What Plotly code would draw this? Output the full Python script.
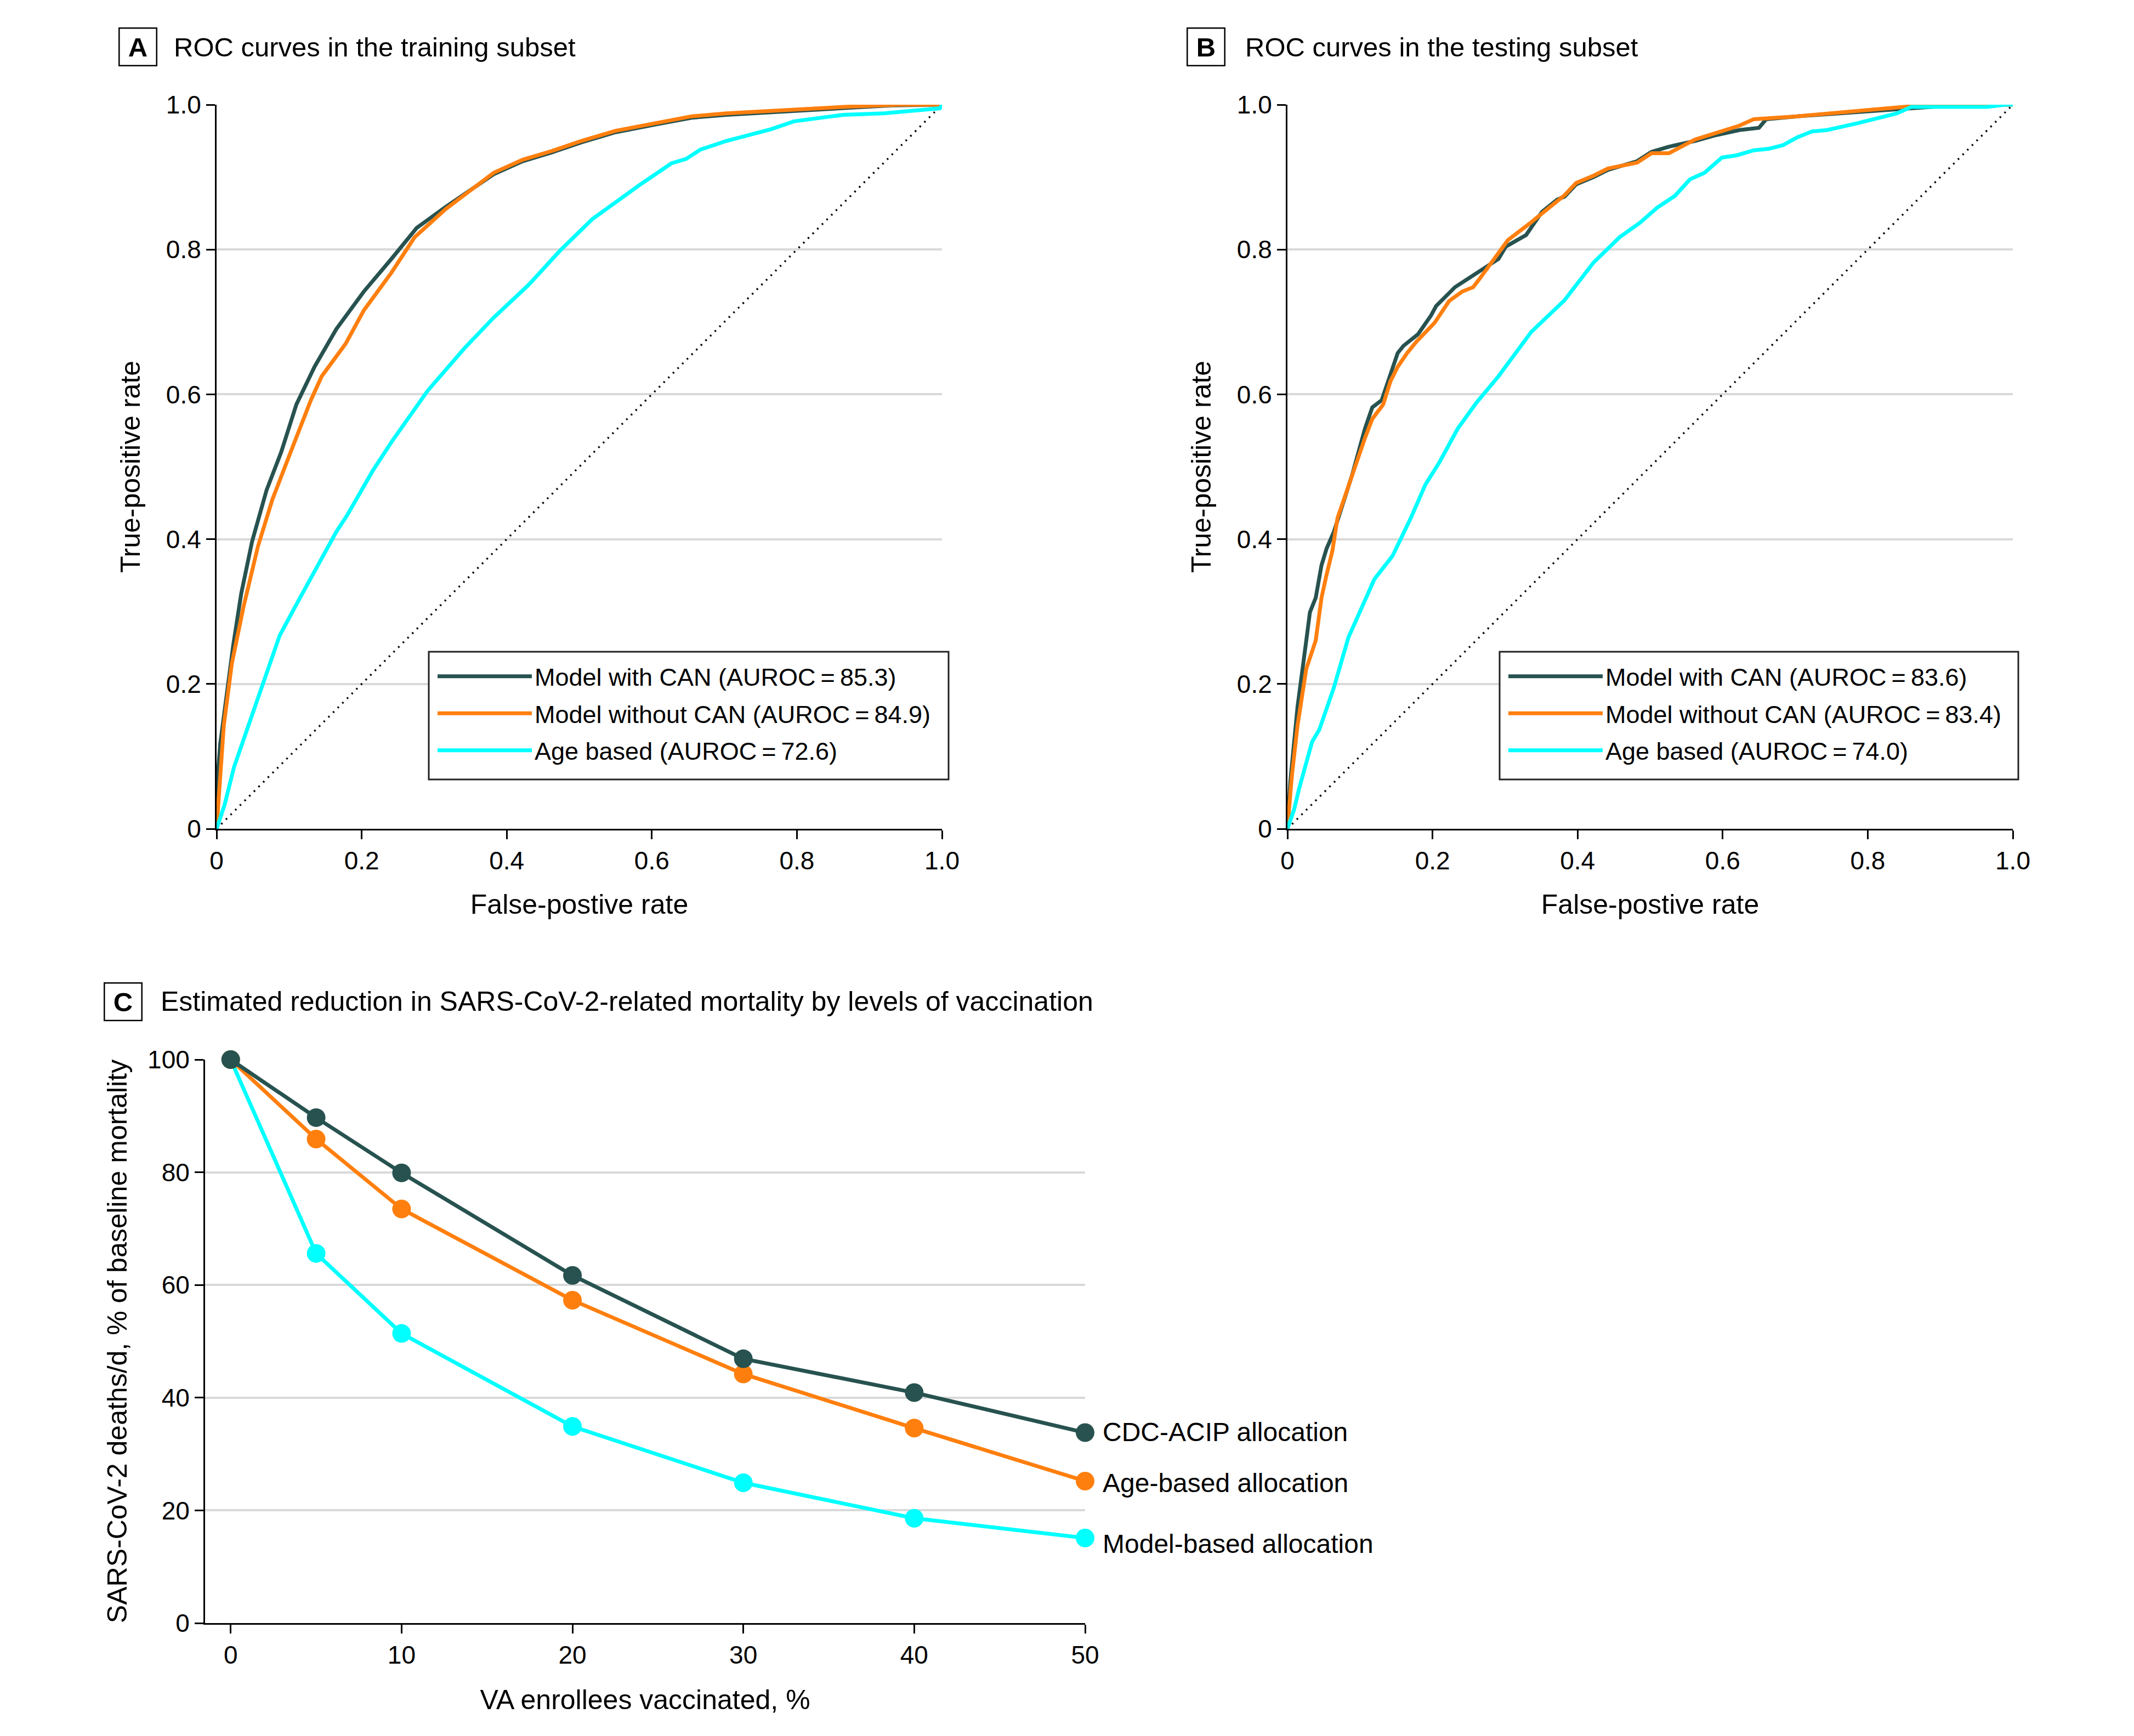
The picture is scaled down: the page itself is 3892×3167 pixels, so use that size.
import plotly.graph_objects as go

W, H = 3892, 3167
FONT = "Liberation Sans"
FS_TICK = 46
FS_TITLE = 49
FS_AXT = 50
FS_LAB = 48
FS_LEG = 45

# ---------------- data ----------------
# Panel A: ROC curves, training subset
a_can_fpr = [0, 0.001, 0.005, 0.014, 0.023, 0.034, 0.049, 0.069, 0.089, 0.110, 0.135, 0.165, 0.203, 0.241,
             0.276, 0.316, 0.382, 0.422, 0.462, 0.503, 0.550, 0.607, 0.655, 0.703, 0.784, 0.864, 0.93, 1.0]
a_can_tpr = [0, 0.065, 0.117, 0.189, 0.254, 0.325, 0.397, 0.468, 0.520, 0.586, 0.638, 0.690, 0.742, 0.787,
             0.830, 0.859, 0.904, 0.922, 0.934, 0.948, 0.962, 0.973, 0.982, 0.986, 0.991, 0.995, 0.999, 1.0]
a_nocan_fpr = [0, 0.004, 0.010, 0.021, 0.037, 0.057, 0.077, 0.102, 0.130, 0.145, 0.178, 0.203, 0.241, 0.273,
               0.316, 0.382, 0.422, 0.462, 0.503, 0.550, 0.607, 0.655, 0.703, 0.784, 0.864, 0.94, 1.0]
a_nocan_tpr = [0, 0.065, 0.143, 0.228, 0.306, 0.390, 0.455, 0.520, 0.592, 0.625, 0.670, 0.716, 0.768, 0.817,
               0.856, 0.906, 0.924, 0.936, 0.950, 0.964, 0.975, 0.984, 0.988, 0.993, 0.997, 1.0, 1.0]
a_age_fpr = [0, 0.011, 0.024, 0.044, 0.064, 0.087, 0.115, 0.140, 0.165, 0.180, 0.215, 0.241, 0.291, 0.342,
             0.382, 0.430, 0.474, 0.518, 0.583, 0.627, 0.647, 0.667, 0.703, 0.764, 0.796, 0.864, 0.920, 0.964,
             0.997, 1.0]
a_age_tpr = [0, 0.033, 0.085, 0.143, 0.202, 0.267, 0.319, 0.364, 0.410, 0.433, 0.494, 0.534, 0.605, 0.664,
             0.706, 0.751, 0.799, 0.842, 0.889, 0.919, 0.925, 0.938, 0.950, 0.966, 0.977, 0.986, 0.988, 0.992,
             0.995, 1.0]

# Panel B: ROC curves, testing subset
b_can_fpr = [0, 0.004, 0.014, 0.021, 0.026, 0.031, 0.039, 0.047, 0.054, 0.064, 0.074, 0.089, 0.107, 0.117,
             0.130, 0.140, 0.152, 0.160, 0.180, 0.198, 0.205, 0.231, 0.256, 0.291, 0.301, 0.329, 0.351, 0.372,
             0.382, 0.398, 0.422, 0.442, 0.482, 0.502, 0.526, 0.562, 0.591, 0.623, 0.650, 0.660, 0.703, 0.804,
             0.884, 0.93, 1.0]
b_can_tpr = [0, 0.065, 0.169, 0.228, 0.260, 0.299, 0.319, 0.364, 0.387, 0.410, 0.442, 0.488, 0.553, 0.582,
             0.592, 0.621, 0.657, 0.667, 0.683, 0.709, 0.722, 0.748, 0.764, 0.787, 0.804, 0.820, 0.852, 0.869,
             0.873, 0.890, 0.900, 0.910, 0.922, 0.935, 0.942, 0.950, 0.958, 0.965, 0.968, 0.980, 0.984, 0.991,
             0.997, 1.0, 1.0]
b_nocan_fpr = [0, 0.006, 0.014, 0.026, 0.039, 0.047, 0.054, 0.062, 0.069, 0.089, 0.107, 0.117, 0.132, 0.142,
               0.152, 0.165, 0.178, 0.203, 0.223, 0.241, 0.256, 0.266, 0.291, 0.304, 0.334, 0.354, 0.382, 0.398,
               0.422, 0.442, 0.482, 0.502, 0.526, 0.562, 0.591, 0.623, 0.643, 0.703, 0.804, 0.884, 1.0]
b_nocan_tpr = [0, 0.072, 0.143, 0.221, 0.260, 0.319, 0.351, 0.384, 0.429, 0.488, 0.540, 0.566, 0.586, 0.618,
               0.638, 0.657, 0.673, 0.699, 0.729, 0.742, 0.748, 0.761, 0.794, 0.813, 0.836, 0.852, 0.875, 0.892,
               0.902, 0.912, 0.920, 0.933, 0.933, 0.952, 0.961, 0.971, 0.980, 0.984, 0.993, 1.0, 1.0]
b_age_fpr = [0, 0.009, 0.016, 0.026, 0.034, 0.044, 0.064, 0.084, 0.102, 0.120, 0.145, 0.170, 0.190, 0.210,
             0.235, 0.261, 0.291, 0.336, 0.382, 0.422, 0.458, 0.486, 0.510, 0.534, 0.555, 0.575, 0.599, 0.619,
             0.643, 0.663, 0.683, 0.703, 0.723, 0.744, 0.784, 0.840, 0.860, 0.965, 0.989, 1.0]
b_age_tpr = [0, 0.026, 0.055, 0.091, 0.120, 0.137, 0.195, 0.264, 0.306, 0.345, 0.377, 0.429, 0.475, 0.507,
             0.553, 0.589, 0.625, 0.686, 0.730, 0.782, 0.817, 0.837, 0.858, 0.874, 0.897, 0.906, 0.927, 0.930,
             0.937, 0.939, 0.944, 0.955, 0.963, 0.965, 0.974, 0.988, 0.997, 0.997, 1.0, 1.0]

chance_line = [0, 1]

legend_a = ["Model with CAN (AUROC\u2009=\u200985.3)", "Model without CAN (AUROC\u2009=\u200984.9)",
            "Age based (AUROC\u2009=\u200972.6)"]
legend_b = ["Model with CAN (AUROC\u2009=\u200983.6)", "Model without CAN (AUROC\u2009=\u200983.4)",
            "Age based (AUROC\u2009=\u200974.0)"]

# Panel C: mortality reduction by vaccination level
vacc_pct = [0, 5, 10, 20, 30, 40, 50]
cdc_acip = [100, 89.7, 79.9, 61.7, 46.9, 40.9, 33.8]
age_based = [100, 85.9, 73.5, 57.3, 44.2, 34.6, 25.2]
model_based = [100, 65.6, 51.4, 34.9, 24.9, 18.6, 15.1]
c_labels = ["CDC-ACIP allocation", "Age-based allocation", "Model-based allocation"]
c_label_y = [33.9, 24.9, 14.1]

roc_ticks = [0, 0.2, 0.4, 0.6, 0.8, 1.0]
roc_ticktext = ["0", "0.2", "0.4", "0.6", "0.8", "1.0"]
c_xticks = [0, 10, 20, 30, 40, 50]
c_yticks = [0, 20, 40, 60, 80, 100]

DARK = "#27524f"
ORANGE = "#ff7f0e"
CYAN = "#00ffff"
GRID = "#d9d9d9"
LW = 7


def px(x):
    return x / W


def py(y):
    return 1 - y / H


fig = go.Figure()

# ---- ROC panels ----
for xa, ya, leg, names, curves in [
    ("x", "y", "legend", legend_a,
     [(a_can_fpr, a_can_tpr, DARK), (a_nocan_fpr, a_nocan_tpr, ORANGE), (a_age_fpr, a_age_tpr, CYAN)]),
    ("x2", "y2", "legend2", legend_b,
     [(b_can_fpr, b_can_tpr, DARK), (b_nocan_fpr, b_nocan_tpr, ORANGE), (b_age_fpr, b_age_tpr, CYAN)]),
]:
    fig.add_trace(go.Scatter(x=chance_line, y=chance_line, mode="lines", xaxis=xa, yaxis=ya,
                             line=dict(color="black", width=3.5, dash="3px,9px"),
                             showlegend=False, hoverinfo="skip"))
    for i, ((fx, ty, col), nm) in enumerate(zip(curves, names)):
        fig.add_trace(go.Scatter(x=fx, y=ty, mode="lines", name=nm, xaxis=xa, yaxis=ya,
                                 line=dict(color=col, width=LW), legend=leg,
                                 legendgroup="%s_%d" % (leg, i)))

# ---- Panel C ----
for vals, col in [(model_based, CYAN), (age_based, ORANGE), (cdc_acip, DARK)]:
    fig.add_trace(go.Scatter(x=vacc_pct, y=vals, mode="lines+markers", xaxis="x3", yaxis="y3",
                             line=dict(color=col, width=LW), marker=dict(color=col, size=34),
                             cliponaxis=False, showlegend=False))

axis_common = dict(showline=True, linecolor="black", linewidth=3, ticks="outside", ticklen=16,
                   tickwidth=3, tickcolor="black", zeroline=False,
                   tickfont=dict(family=FONT, size=FS_TICK, color="black"))

A_X = [px(395), px(1718)]
B_X = [px(2348), px(3671)]
AB_Y = [py(1512), py(191)]
C_X = [px(374), px(1979)]
C_Y = [py(2961), py(1933)]

title_font = dict(family=FONT, size=FS_TITLE, color="black")
axt_font = dict(family=FONT, size=FS_AXT, color="black")
lab_font = dict(family=FONT, size=FS_LAB, color="black")
leg_font = dict(family=FONT, size=FS_LEG, color="black")

fig.update_layout(
    width=W, height=H, margin=dict(l=0, r=0, t=0, b=0, autoexpand=False),
    paper_bgcolor="white", plot_bgcolor="white",
    font=dict(family=FONT, size=FS_TICK, color="black"),
    xaxis=dict(domain=A_X, range=[0, 1], anchor="y", tickvals=roc_ticks, ticktext=roc_ticktext,
               showgrid=False, title=dict(text="False-postive rate", font=axt_font, standoff=37),
               **axis_common),
    yaxis=dict(domain=AB_Y, range=[0, 1], anchor="x", tickvals=roc_ticks, ticktext=roc_ticktext,
               showgrid=True, gridcolor=GRID, gridwidth=4,
               title=dict(text="True-positive rate", font=axt_font, standoff=32), **axis_common),
    xaxis2=dict(domain=B_X, range=[0, 1], anchor="y2", tickvals=roc_ticks, ticktext=roc_ticktext,
                showgrid=False, title=dict(text="False-postive rate", font=axt_font, standoff=37),
                **axis_common),
    yaxis2=dict(domain=AB_Y, range=[0, 1], anchor="x2", tickvals=roc_ticks, ticktext=roc_ticktext,
                showgrid=True, gridcolor=GRID, gridwidth=4,
                title=dict(text="True-positive rate", font=axt_font, standoff=32), **axis_common),
    xaxis3=dict(domain=C_X, range=[-1.5, 50], anchor="y3", tickvals=c_xticks, showgrid=False,
                title=dict(text="VA enrollees vaccinated, %", font=axt_font, standoff=39),
                **axis_common),
    yaxis3=dict(domain=C_Y, range=[0, 100], anchor="x3", tickvals=c_yticks, showgrid=True,
                gridcolor=GRID, gridwidth=4,
                title=dict(text="SARS-CoV-2 deaths/d, % of baseline mortality", font=axt_font,
                           standoff=22), **axis_common),
    legend=dict(x=px(793), y=py(1198), xanchor="left", yanchor="top", bgcolor="rgba(0,0,0,0)",
                borderwidth=0, font=leg_font, itemwidth=172, tracegroupgap=6),
    legend2=dict(x=px(2746), y=py(1198), xanchor="left", yanchor="top", bgcolor="rgba(0,0,0,0)",
                 borderwidth=0, font=leg_font, itemwidth=172, tracegroupgap=6),
)

# Legend frames
shapes = []
for x0, x1 in [(782, 1730), (2735, 3681)]:
    shapes.append(dict(type="rect", xref="paper", yref="paper", x0=px(x0), x1=px(x1), y0=py(1422),
                       y1=py(1189), line=dict(color="#222222", width=3), fillcolor="white", layer="above"))

# Panel letters and titles
annotations = []
for letter, cx, cy, tx, txt, fs in [
    ("A", 251, 86, 315, "ROC curves in the training subset", FS_TITLE),
    ("B", 2199, 86, 2269, "ROC curves in the testing subset", FS_TITLE),
    ("C", 224, 1827, 291, "Estimated reduction in SARS-CoV-2-related mortality by levels of vaccination",
     FS_TITLE + 1),
]:
    annotations.append(dict(text="<b>%s</b>" % letter, x=px(cx), y=py(cy), xref="paper", yref="paper",
                            xanchor="center", yanchor="middle", showarrow=False,
                            font=dict(family=FONT, size=FS_TITLE, color="black"),
                            bordercolor="black", borderwidth=2.5, borderpad=0, width=66, height=66,
                            align="center", valign="middle"))
    annotations.append(dict(text=txt, x=px(tx), y=py(cy), xref="paper", yref="paper",
                            xanchor="left", yanchor="middle", showarrow=False,
                            font=dict(family=FONT, size=fs, color="black")))

for lab, yv in zip(c_labels, c_label_y):
    annotations.append(dict(text=lab, x=50, y=yv, xref="x3", yref="y3", xanchor="left", yanchor="middle",
                            xshift=30, showarrow=False, font=lab_font))

fig.update_layout(annotations=annotations, shapes=shapes)

fig.write_html(
    "out.html",
    config={"displayModeBar": False},
    post_script=("var de=document.documentElement;de.style.margin='0';de.style.padding='0';"
                 "de.style.overflow='hidden';document.body.style.margin='0';"
                 "document.body.style.padding='0';document.body.style.overflow='hidden';"),
)
